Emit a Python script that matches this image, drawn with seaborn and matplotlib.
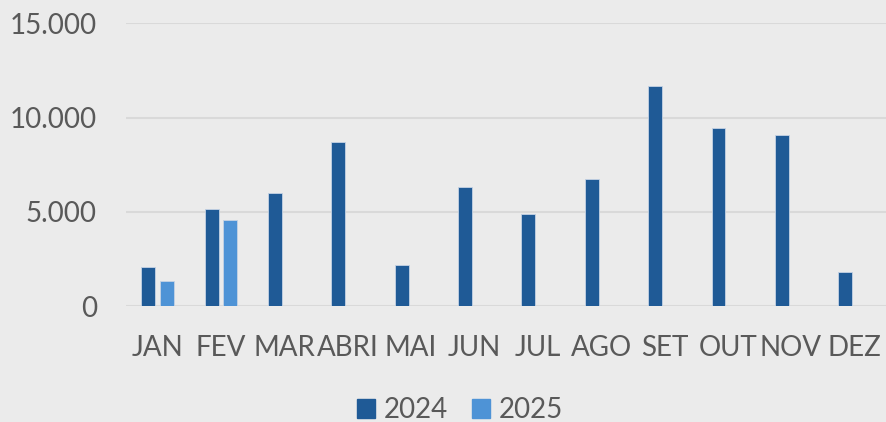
import numpy as np
import pandas as pd
import matplotlib
matplotlib.use("Agg")
import matplotlib.pyplot as plt
import seaborn as sns
from matplotlib.ticker import FuncFormatter

# dados do gráfico
meses = ["JAN", "FEV", "MAR", "ABRI", "MAI", "JUN", "JUL", "AGO", "SET", "OUT", "NOV", "DEZ"]
valores_2024 = [2100, 5160, 6020, 8710, 2190, 6330, 4910, 6750, 11680, 9440, 9100, 1840]
valores_2025 = [1330, 4590, None, None, None, None, None, None, None, None, None, None]
anos = ["2024", "2025"]
cores = ["#1F5A96", "#4E93D6"]

df = pd.DataFrame({
    "mes": meses * 2,
    "ano": [anos[0]] * len(meses) + [anos[1]] * len(meses),
    "valor": valores_2024 + valores_2025,
}).dropna()

sns.set_theme(style="white")
plt.rcParams["font.family"] = ["Lato", "DejaVu Sans"]

fig = plt.figure(figsize=(8.86, 4.22), dpi=100, facecolor="#EBEBEB")
ax = fig.add_axes([0.1422, 0.2742, 0.8578, 0.6706])
ax.set_facecolor("#EBEBEB")

sns.barplot(data=df, x="mes", y="valor", hue="ano", order=meses, hue_order=anos,
            palette=cores, saturation=1, width=0.58, gap=0.24, errorbar=None, ax=ax,
            edgecolor="#C5D3E4", linewidth=0.6, legend=False)

ax.set_ylim(0, 15000)
ax.set_xlim(-0.5, len(meses) - 0.5)
ax.set_yticks([0, 5000, 10000, 15000])
ax.yaxis.set_major_formatter(FuncFormatter(lambda v, p: f"{v:,.0f}".replace(",", ".")))
ax.grid(axis="y", color="#D9D9D9", linewidth=1.5)
ax.set_axisbelow(True)
for s in ax.spines.values():
    s.set_visible(False)
ax.tick_params(axis="both", length=0, labelsize=20, labelcolor="#595959")
ax.tick_params(axis="y", pad=21)
ax.tick_params(axis="x", pad=21)
ax.set_xlabel("")
ax.set_ylabel("")

handles = [plt.Rectangle((0, 0), 1, 1, color=c) for c in cores]
leg = fig.legend(handles, anos, loc="center", bbox_to_anchor=(460 / 886, 0.028), ncol=2,
                 frameon=False, fontsize=20, handlelength=0.65, handleheight=0.65,
                 handletextpad=0.33, columnspacing=0.84, borderpad=0)
for t in leg.get_texts():
    t.set_color("#595959")

fig.savefig("out.png", dpi=100, facecolor=fig.get_facecolor())
